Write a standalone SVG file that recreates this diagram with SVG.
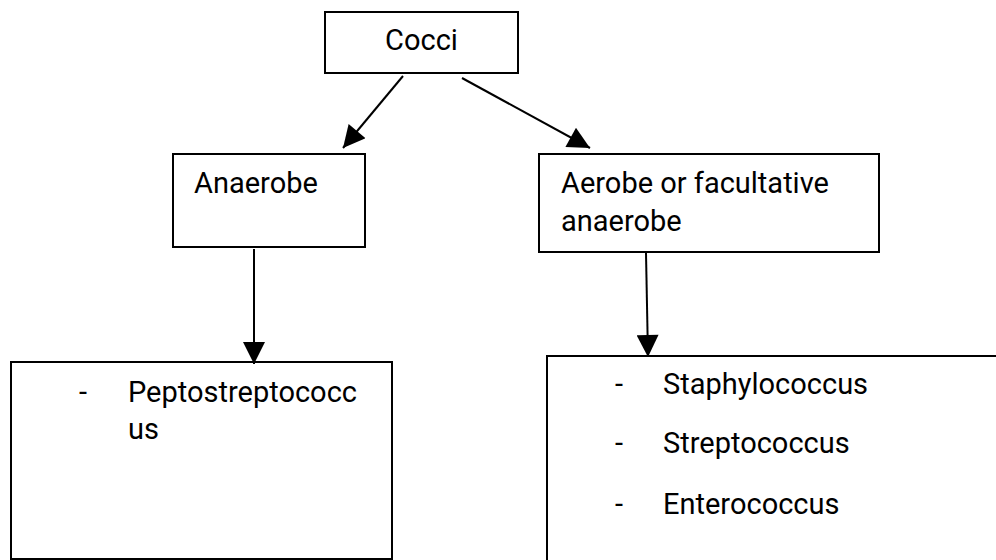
<svg xmlns="http://www.w3.org/2000/svg" width="996" height="560" viewBox="0 0 996 560">
<style>
.box{fill:#fff;stroke:#000;stroke-width:2}
.t{font-family:Roboto,"Liberation Sans",sans-serif;font-size:29px;fill:#000}
.c{stroke:#000;stroke-width:2;fill:none}
</style>
<defs>
<marker id="ahb" markerWidth="24" markerHeight="22" refX="22" refY="11" orient="auto" markerUnits="userSpaceOnUse" viewBox="0 0 22 22">
<path d="M0,0 L22,11 L0,22 Z" fill="#000"/>
</marker>
</defs>
<g id="cocci"><rect class="box" x="325" y="12" width="193" height="61"/><text class="t" x="421.5" y="50" text-anchor="middle">Cocci</text></g>
<g id="anaerobe"><rect class="box" x="173" y="154" width="192" height="93"/><text class="t" x="194" y="193">Anaerobe</text></g>
<g id="aerobe"><rect class="box" x="539" y="154" width="340" height="98"/><text class="t" x="561" y="193">Aerobe or facultative</text><text class="t" x="561" y="231">anaerobe</text></g>
<g id="pepto"><rect class="box" x="11" y="362" width="381" height="197"/><text class="t" x="79" y="402">-</text><text class="t" x="128" y="402">Peptostreptococc</text><text class="t" x="128" y="439">us</text></g>
<g id="cocci-list"><rect class="box" x="547" y="356" width="460" height="220"/><text class="t" x="615" y="394">-</text><text class="t" x="663" y="394">Staphylococcus</text><text class="t" x="615" y="453">-</text><text class="t" x="663" y="453">Streptococcus</text><text class="t" x="615" y="514">-</text><text class="t" x="663" y="514">Enterococcus</text></g>
<g id="connectors">
<line class="c" x1="403" y1="76" x2="343" y2="148" marker-end="url(#ahb)"/>
<line class="c" x1="462" y1="78" x2="590" y2="148" marker-end="url(#ahb)"/>
<line class="c" x1="254" y1="249" x2="254" y2="364" marker-end="url(#ahb)"/>
<line class="c" x1="646" y1="253" x2="648" y2="357" marker-end="url(#ahb)"/>
</g>
</svg>
